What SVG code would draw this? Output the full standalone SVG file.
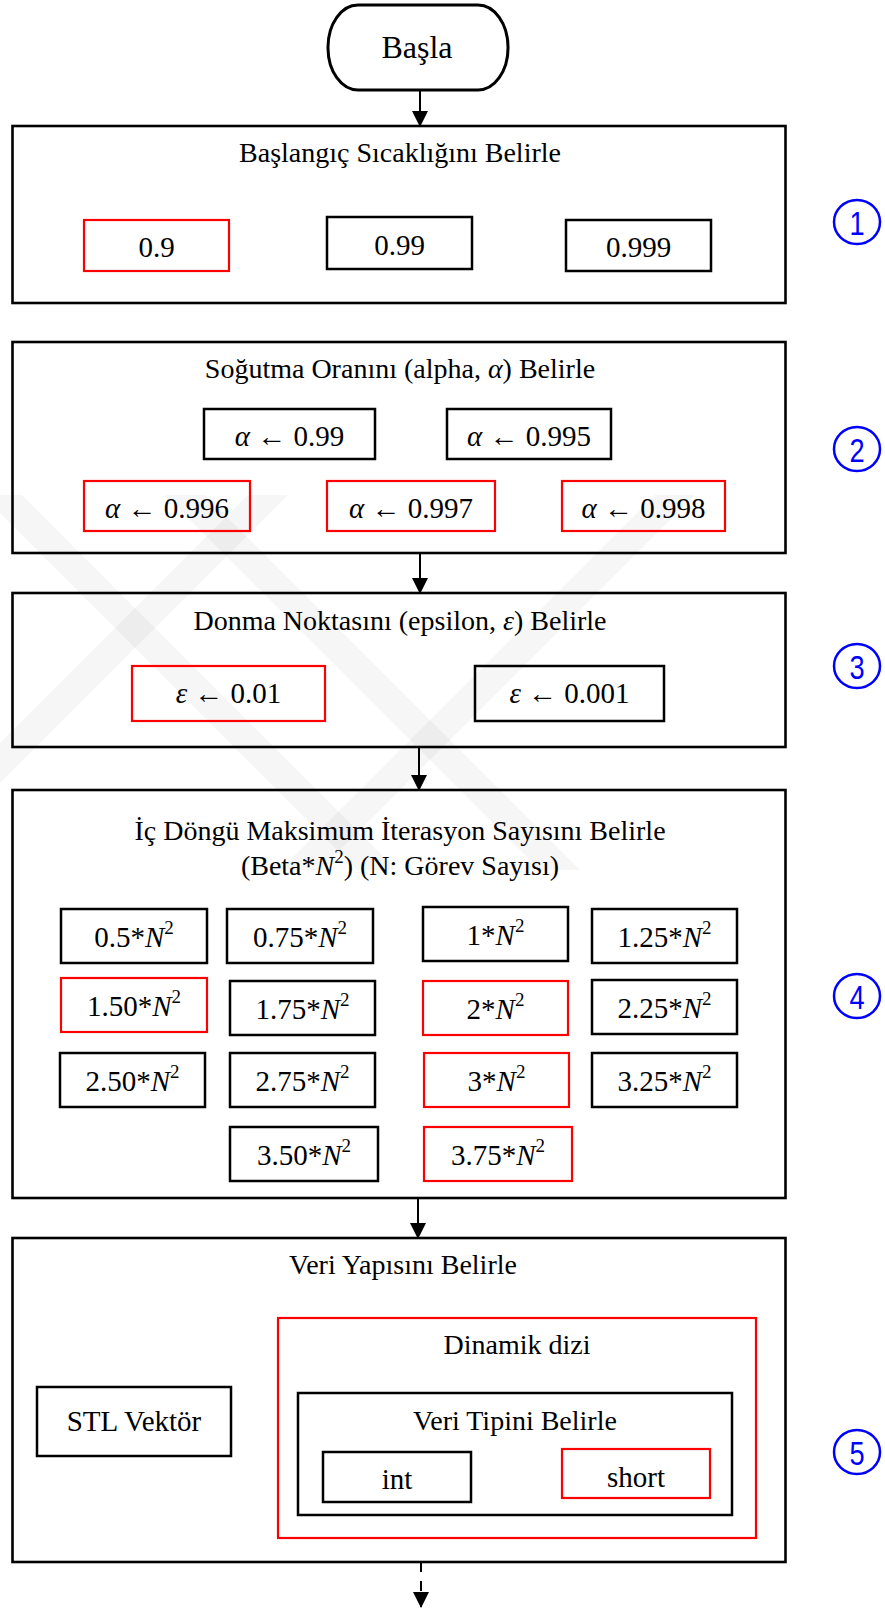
<svg xmlns="http://www.w3.org/2000/svg" width="885" height="1610" viewBox="0 0 885 1610">
<style>
.t,.v,.s{font-family:"Liberation Serif","Times New Roman","DejaVu Serif",serif;fill:#000;text-anchor:middle;}
.t{font-size:28px;}
.v{font-size:29px;}
.s{font-size:32px;}
.m{font-style:italic;}
.sup{font-size:19px;}
.big{stroke:#000;stroke-width:2.6;fill:none;}
.k{stroke:#000;stroke-width:2.5;fill:none;}
.r{stroke:#ff0000;stroke-width:2.2;fill:none;}
.circ{stroke:#0000ff;stroke-width:2.5;fill:none;}
.num{font-family:"Liberation Sans",Arial,sans-serif;font-size:34px;fill:#0000ff;text-anchor:middle;}
.conn{stroke:#000;stroke-width:2;fill:none;}
.wm{fill:#000;fill-opacity:0.035;}
</style>
<defs>
<marker id="ah" markerWidth="16" markerHeight="16" refX="15" refY="8" orient="auto" markerUnits="userSpaceOnUse">
<path d="M0,0 L16,8 L0,16 Z" fill="#000"/>
</marker>
<clipPath id="wmclip"><rect x="0" y="495" width="800" height="375"/></clipPath>
</defs>
<rect width="885" height="1610" fill="#fff"/>

<g id="watermark" clip-path="url(#wmclip)">
<polygon class="wm" points="248,495 288,495 -87,870 -127,870"/>
<polygon class="wm" points="655,495 695,495 320,870 280,870"/>
<polygon class="wm" points="-18,495 22,495 397,870 357,870"/>
<polygon class="wm" points="165,495 205,495 580,870 540,870"/>
</g>

<g id="start">
<rect x="328" y="5" width="180" height="85" rx="30" ry="42" stroke="#000" stroke-width="3" fill="none"/>
<text class="s" x="417" y="58">Başla</text>
</g>

<g id="step1">
<rect class="big" x="12.5" y="126" width="773" height="177"/>
<text class="t" x="400" y="162">Başlangıç Sıcaklığını Belirle</text>
<rect class="r" x="84" y="220" width="145" height="51"/>
<text class="v" x="156.5" y="257">0.9</text>
<rect class="k" x="327" y="217" width="145" height="52"/>
<text class="v" x="399.5" y="255">0.99</text>
<rect class="k" x="566" y="220" width="145" height="51"/>
<text class="v" x="638.5" y="257">0.999</text>
</g>

<g id="step2">
<rect class="big" x="12.5" y="342" width="773" height="211"/>
<text class="t" x="400" y="378">Soğutma Oranını (alpha, <tspan class="m">α</tspan>) Belirle</text>
<rect class="k" x="204" y="409" width="171" height="50"/>
<text class="v" x="289.5" y="446"><tspan class="m">α</tspan> ← 0.99</text>
<rect class="k" x="447" y="409" width="164" height="50"/>
<text class="v" x="529" y="446"><tspan class="m">α</tspan> ← 0.995</text>
<rect class="r" x="84" y="481" width="166" height="50"/>
<text class="v" x="167" y="518"><tspan class="m">α</tspan> ← 0.996</text>
<rect class="r" x="327" y="481" width="168" height="50"/>
<text class="v" x="411" y="518"><tspan class="m">α</tspan> ← 0.997</text>
<rect class="r" x="562" y="481" width="163" height="50"/>
<text class="v" x="643.5" y="518"><tspan class="m">α</tspan> ← 0.998</text>
</g>

<g id="step3">
<rect class="big" x="12.5" y="593" width="773" height="154"/>
<text class="t" x="400" y="630">Donma Noktasını (epsilon, <tspan class="m">ε</tspan>) Belirle</text>
<rect class="r" x="132" y="666" width="193" height="55"/>
<text class="v" x="228.5" y="703"><tspan class="m">ε</tspan> ← 0.01</text>
<rect class="k" x="475" y="666" width="189" height="55"/>
<text class="v" x="569.5" y="703"><tspan class="m">ε</tspan> ← 0.001</text>
</g>

<g id="step4">
<rect class="big" x="12.5" y="790" width="773" height="408"/>
<text class="t" x="400" y="840">İç Döngü Maksimum İterasyon Sayısını Belirle</text>
<text class="t" x="400" y="875">(Beta*<tspan class="m">N</tspan><tspan class="sup" dy="-12">2</tspan><tspan dy="12">) (N: Görev Sayısı)</tspan></text>
<rect class="k" x="61" y="909" width="146" height="54"/>
<text class="v" x="134" y="947">0.5*<tspan class="m">N</tspan><tspan class="sup" dy="-13">2</tspan></text>
<rect class="k" x="227" y="909" width="146" height="54"/>
<text class="v" x="300" y="947">0.75*<tspan class="m">N</tspan><tspan class="sup" dy="-13">2</tspan></text>
<rect class="k" x="423" y="907" width="145" height="54"/>
<text class="v" x="495.5" y="945">1*<tspan class="m">N</tspan><tspan class="sup" dy="-13">2</tspan></text>
<rect class="k" x="592" y="909" width="145" height="54"/>
<text class="v" x="664.5" y="947">1.25*<tspan class="m">N</tspan><tspan class="sup" dy="-13">2</tspan></text>

<rect class="r" x="61" y="978" width="146" height="54"/>
<text class="v" x="134" y="1016">1.50*<tspan class="m">N</tspan><tspan class="sup" dy="-13">2</tspan></text>
<rect class="k" x="230" y="981" width="145" height="54"/>
<text class="v" x="302.5" y="1019">1.75*<tspan class="m">N</tspan><tspan class="sup" dy="-13">2</tspan></text>
<rect class="r" x="423" y="981" width="145" height="54"/>
<text class="v" x="495.5" y="1019">2*<tspan class="m">N</tspan><tspan class="sup" dy="-13">2</tspan></text>
<rect class="k" x="592" y="980" width="145" height="54"/>
<text class="v" x="664.5" y="1018">2.25*<tspan class="m">N</tspan><tspan class="sup" dy="-13">2</tspan></text>

<rect class="k" x="60" y="1053" width="145" height="54"/>
<text class="v" x="132.5" y="1091">2.50*<tspan class="m">N</tspan><tspan class="sup" dy="-13">2</tspan></text>
<rect class="k" x="230" y="1053" width="145" height="54"/>
<text class="v" x="302.5" y="1091">2.75*<tspan class="m">N</tspan><tspan class="sup" dy="-13">2</tspan></text>
<rect class="r" x="424" y="1053" width="145" height="54"/>
<text class="v" x="496.5" y="1091">3*<tspan class="m">N</tspan><tspan class="sup" dy="-13">2</tspan></text>
<rect class="k" x="592" y="1053" width="145" height="54"/>
<text class="v" x="664.5" y="1091">3.25*<tspan class="m">N</tspan><tspan class="sup" dy="-13">2</tspan></text>

<rect class="k" x="230" y="1127" width="148" height="54"/>
<text class="v" x="304" y="1165">3.50*<tspan class="m">N</tspan><tspan class="sup" dy="-13">2</tspan></text>
<rect class="r" x="424" y="1127" width="148" height="54"/>
<text class="v" x="498" y="1165">3.75*<tspan class="m">N</tspan><tspan class="sup" dy="-13">2</tspan></text>
</g>

<g id="step5">
<rect class="big" x="12.5" y="1238" width="773" height="324"/>
<text class="t" x="403" y="1274">Veri Yapısını Belirle</text>
<g id="stl">
<rect class="k" x="37" y="1387" width="194" height="69"/>
<text class="v" x="134" y="1431">STL Vektör</text>
</g>
<g id="dinamik">
<rect class="r" x="278" y="1318" width="478" height="220"/>
<text class="t" x="517" y="1354">Dinamik dizi</text>
<rect class="k" x="298" y="1393" width="434" height="122"/>
<text class="t" x="515" y="1430">Veri Tipini Belirle</text>
<rect class="k" x="323" y="1452" width="148" height="50"/>
<text class="v" x="397" y="1489">int</text>
<rect class="r" x="562" y="1449" width="148" height="49"/>
<text class="v" x="636" y="1487">short</text>
</g>
</g>

<g id="markers">
<g id="m1"><ellipse class="circ" cx="857" cy="222" rx="23" ry="22"/><text class="num" transform="translate(857,235) scale(0.8,1)">1</text></g>
<g id="m2"><ellipse class="circ" cx="857" cy="449" rx="23" ry="22"/><text class="num" transform="translate(857,462) scale(0.8,1)">2</text></g>
<g id="m3"><ellipse class="circ" cx="857" cy="666" rx="23" ry="22"/><text class="num" transform="translate(857,679) scale(0.8,1)">3</text></g>
<g id="m4"><ellipse class="circ" cx="857" cy="996" rx="23" ry="22"/><text class="num" transform="translate(857,1009) scale(0.8,1)">4</text></g>
<g id="m5"><ellipse class="circ" cx="857" cy="1452" rx="23" ry="22"/><text class="num" transform="translate(857,1465) scale(0.8,1)">5</text></g>
</g>

<g id="connectors">
<line class="conn" x1="420" y1="90" x2="420" y2="126" marker-end="url(#ah)"/>
<line class="conn" x1="420" y1="553" x2="420" y2="593" marker-end="url(#ah)"/>
<line class="conn" x1="419" y1="747" x2="419" y2="790" marker-end="url(#ah)"/>
<line class="conn" x1="418" y1="1198" x2="418" y2="1238" marker-end="url(#ah)"/>
<line class="conn" x1="421" y1="1562" x2="421" y2="1607" stroke-dasharray="10 9" marker-end="url(#ah)"/>
</g>
</svg>
